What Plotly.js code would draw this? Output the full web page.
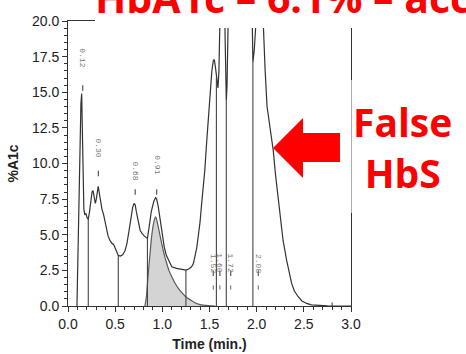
<!DOCTYPE html>
<html>
<head>
<meta charset="utf-8">
<script src="https://cdn.plot.ly/plotly-3.0.1.min.js"></script>
<style>
  html, body { margin: 0; padding: 0; background: #ffffff; }
  #chart { width: 466px; height: 354px; }
</style>
</head>
<body>
<div id="chart"></div>
<script>
// ---- Chromatogram data (time in min, signal in %A1c) ----
const curveTime = [0.095,0.100,0.108,0.118,0.128,0.137,0.145,0.150,0.155,0.160,0.168,0.178,0.190,0.202,0.215,0.228,0.240,0.255,0.265,0.278,0.290,0.300,0.312,0.320,0.330,0.342,0.360,0.378,0.400,0.425,0.445,0.465,0.485,0.500,0.515,0.533,0.555,0.580,0.605,0.625,0.645,0.665,0.685,0.700,0.712,0.725,0.745,0.765,0.785,0.810,0.842,0.855,0.868,0.882,0.895,0.910,0.928,0.940,0.957,0.972,0.986,1.000,1.020,1.040,1.064,1.085,1.100,1.150,1.205,1.250,1.280,1.310,1.330,1.346,1.365,1.380,1.400,1.417,1.435,1.450,1.470,1.487,1.505,1.525,1.540,1.551,1.562,1.576,1.590,1.600,1.610,1.620,1.640,1.655,1.665,1.672,1.678,1.686,1.695,1.705,1.740,1.800,1.880,1.930,1.950,1.960,1.975,1.990,2.010,2.040,2.060,2.070,2.090,2.110,2.140,2.176,2.200,2.230,2.255,2.280,2.318,2.345,2.370,2.400,2.440,2.480,2.530,2.580,2.650,2.750,2.850,3.000];
const curveValue = [0,1.5,5.0,9.0,12.2,14.2,14.9,13.0,10.5,8.4,6.8,6.4,6.5,6.2,6.1,6.6,7.4,8.0,8.1,7.6,7.2,7.5,8.1,8.4,8.0,7.5,6.8,6.4,5.6,4.9,4.6,4.4,4.3,4.1,3.8,3.55,3.5,3.6,3.9,4.4,5.2,6.1,6.9,7.2,7.1,6.6,5.8,5.3,5.1,4.9,4.74,5.2,5.9,6.6,7.0,7.35,7.6,7.5,6.96,6.2,5.56,4.9,4.15,3.6,3.22,2.95,2.75,2.64,2.57,2.52,2.6,2.75,3.0,3.45,4.1,4.86,5.9,7.2,8.4,9.5,11.5,13.2,15.0,16.5,17.2,17.3,16.8,15.8,15.3,16.5,19.0,22,30,26,19,15.5,14.4,15.5,19,23,35,60,55,30,21,17.1,18.0,20.5,24,25,21.5,19.5,16.5,14.0,12.5,10.9,9.2,7.4,5.9,4.6,3.2,2.3,1.6,1.05,0.65,0.35,0.18,0.08,0.03,0.01,0,0];

// Fitted A1c peak (shaded)
const fitTime = [0.815,0.830,0.845,0.860,0.870,0.885,0.904,0.920,0.930,0.942,0.957,0.975,0.993,1.020,1.046,1.070,1.100,1.135,1.170,1.205,1.240,1.290,1.346,1.400,1.490,1.560];
const fitValue = [0,0.6,1.8,3.0,3.7,4.8,5.7,6.15,6.26,6.0,5.56,4.95,4.4,3.6,3.0,2.5,2.05,1.6,1.24,0.95,0.7,0.45,0.23,0.1,0.03,0];

// Peak boundary (drop line) times
const dropTimes = [0.215,0.533,0.842,1.250,1.573,1.678,1.960];
const endMarkTime = [2.80];
const endMarkHeight = [0.25];

// Peak retention-time labels
const peakLabels = ['0.12','0.30','0.68','0.91','1.52','1.60','1.72','2.08'];
const labelTime  = [0.156,0.322,0.712,0.940,1.540,1.610,1.725,2.017];
const labelLevel = [17.4,11.1,9.5,9.9,3.0,3.0,3.0,3.0];
const markLevel  = [15.3,9.3,8.0,8.0,2.3,2.3,2.3,2.3];
const dotTime    = [1.540,1.610,1.725,2.017];
const dotLevel   = [1.3,1.3,1.3,1.3];

const titleText = 'HbA1c – 6.1% – acc';
const calloutText = 'False<br>HbS';

// ---- helpers ----
function interp(t){
  for (let i=0;i<curveTime.length-1;i++){
    if (t>=curveTime[i] && t<=curveTime[i+1]){
      const f=(t-curveTime[i])/(curveTime[i+1]-curveTime[i]);
      return curveValue[i]+f*(curveValue[i+1]-curveValue[i]);
    }
  }
  return 0;
}
const dropX=[], dropY=[];
dropTimes.forEach(t=>{ dropX.push(t,t,null); dropY.push(0,interp(t),null); });
endMarkTime.forEach((t,i)=>{ dropX.push(t,t,null); dropY.push(0,endMarkHeight[i],null); });

// pixel -> paper conversion for decorative shapes
const L=68, T=21, W=283, H=285;
const px = x => (x-L)/W;
const py = y => (T+H-y)/H;

const traces = [
  { x: fitTime, y: fitValue, type:'scatter', mode:'lines', fill:'tozeroy',
    fillcolor:'#d4d4d4', line:{color:'#5a5a5a', width:1.2, shape:'spline', smoothing:0.6}, hoverinfo:'skip' },
  { x: curveTime, y: curveValue, type:'scatter', mode:'lines',
    line:{color:'#333333', width:1.2}, hoverinfo:'skip' },
  { x: dropX, y: dropY, type:'scatter', mode:'lines',
    line:{color:'#444444', width:1.1}, hoverinfo:'skip' },
  { x: labelTime, y: markLevel, type:'scatter', mode:'markers',
    marker:{symbol:'line-ns', size:4, line:{color:'#555', width:1.2}}, hoverinfo:'skip' },
  { x: dotTime, y: dotLevel, type:'scatter', mode:'markers',
    marker:{symbol:'line-ns', size:3, line:{color:'#666', width:1}}, hoverinfo:'skip' }
];

const annotations = peakLabels.map((s,i)=>({
  x: labelTime[i], y: labelLevel[i], xref:'x', yref:'y', text:s, showarrow:false,
  textangle:90, font:{family:'Liberation Mono, DejaVu Sans Mono, monospace', size:8, color:'#777'}
}));
annotations.push({
  x: px(93), y: py(27), xref:'paper', yref:'paper', xanchor:'left', yanchor:'bottom',
  text: titleText, showarrow:false,
  font:{family:'Open Sans, Noto Sans, sans-serif', size:41, color:'#ff0000', weight:'bold'}
});
annotations.push({
  x: px(402), y: py(147), xref:'paper', yref:'paper', xanchor:'center', yanchor:'middle',
  text: calloutText, showarrow:false,
  font:{family:'Open Sans, Noto Sans, sans-serif', size:39, color:'#ff0000', weight:'bold'}
});

const arrowPts = [[273,148],[303,118],[303,133],[340,133],[340,162],[303,162],[303,178]];
const arrowPath = 'M ' + arrowPts.map(p=>px(p[0])+','+py(p[1])).join(' L ') + ' Z';

const shapes = [
  { type:'rect', xref:'paper', yref:'paper', x0:px(95), x1:px(470), y0:py(28), y1:py(-5),
    fillcolor:'#ffffff', line:{width:0}, layer:'above' },
  { type:'rect', xref:'paper', yref:'paper', x0:px(349), x1:px(470), y0:py(213), y1:py(80),
    fillcolor:'rgba(255,255,255,0.6)', line:{width:0}, layer:'above' },
  { type:'path', xref:'paper', yref:'paper', path: arrowPath,
    fillcolor:'#ff0000', line:{width:0}, layer:'above' }
];

const axisFont = {family:'Liberation Sans, Arial, sans-serif', size:14, color:'#222'};
const layout = {
  width:466, height:354,
  margin:{l:L, r:466-L-W, t:T, b:354-T-H, pad:0},
  paper_bgcolor:'#ffffff', plot_bgcolor:'#ffffff',
  showlegend:false,
  xaxis:{
    range:[0,3], dtick:0.5, tickformat:'.1f', ticks:'outside', ticklen:5, tickcolor:'#333',
    showline:true, linecolor:'#333', linewidth:1, mirror:true, showgrid:false, zeroline:false,
    minor:{dtick:0.1, ticks:'outside', ticklen:3, tickcolor:'#333', showgrid:false},
    tickfont:axisFont,
    title:{text:'Time (min.)', font:{family:'Liberation Sans, Arial, sans-serif', size:14, color:'#222', weight:'bold'}, standoff:8}
  },
  yaxis:{
    range:[0,20], dtick:2.5, tickformat:'.1f', ticks:'outside', ticklen:5, tickcolor:'#333',
    showline:true, linecolor:'#333', linewidth:1, mirror:true, showgrid:false, zeroline:false,
    minor:{dtick:0.5, ticks:'outside', ticklen:3, tickcolor:'#333', showgrid:false},
    tickfont:axisFont,
    title:{text:'%A1c', font:{family:'Liberation Sans, Arial, sans-serif', size:14, color:'#222', weight:'bold'}, standoff:10}
  },
  annotations: annotations,
  shapes: shapes
};

Plotly.newPlot('chart', traces, layout, {displayModeBar:false, staticPlot:true});
</script>
</body>
</html>
